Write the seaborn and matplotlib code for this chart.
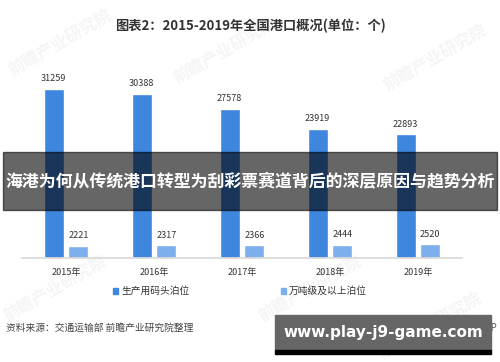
import pandas as pd
import matplotlib.pyplot as plt
import seaborn as sns
from matplotlib.patches import Rectangle

years = ['2015年', '2016年', '2017年', '2018年', '2019年']
berths_all = [31259, 30388, 27578, 23919, 22893]
berths_10k = [2221, 2317, 2366, 2444, 2520]
series_names = ['生产用码头泊位', '万吨级及以上泊位']

sns.set_theme(style='white')
plt.rcParams['font.family'] = ['Noto Sans CJK SC', 'DejaVu Sans']

df = pd.DataFrame({
    'year': years * 2,
    'value': berths_all + berths_10k,
    'series': [series_names[0]] * len(years) + [series_names[1]] * len(years),
})

fig = plt.figure(figsize=(5, 3.62), dpi=100)

# faint watermarks, drawn behind everything
for wx, wy in [(0.12, 0.88), (0.45, 0.86), (0.62, 0.2), (0.87, 0.84), (0.11, 0.2), (0.86, 0.1)]:
    fig.text(wx, wy, '前瞻产业研究院', rotation=30, ha='center', va='center',
             fontsize=12, fontweight='bold', color='#f5f5f5', zorder=-1)

ax = fig.add_axes([22 / 500, 1 - 258 / 362, 440 / 500, 198 / 362])
ax.patch.set_alpha(0)

palette = {series_names[0]: '#3f86df', series_names[1]: '#7cafec'}
sns.barplot(data=df, x='year', y='value', hue='series', palette=palette,
            width=0.56, gap=0.2, saturation=1, ax=ax, legend=False)

for c in ax.containers:
    ax.bar_label(c, fontsize=6.5, padding=4, color='#333333')

ax.set_xlim(-0.5, 4.5)
ax.set_ylim(0, 36600)
ax.set_xlabel('')
ax.set_ylabel('')
ax.set_yticks([])
for s in ['top', 'left', 'right']:
    ax.spines[s].set_visible(False)
ax.spines['bottom'].set_color('#d9d9d9')
ax.tick_params(axis='x', labelsize=6.5, colors='#333333', pad=7, length=0)

# title
fig.text(0.5, 1 - 26 / 362, '图表2：2015-2019年全国港口概况(单位：个)', ha='center', va='center',
         fontsize=9.5, fontweight='bold', color='#333333')

# legend
fig.patches.append(Rectangle((113 / 500, 1 - 294 / 362), 5 / 500, 6 / 362,
                             transform=fig.transFigure, color=palette[series_names[0]]))
fig.text(121 / 500, 1 - 291 / 362, series_names[0], ha='left', va='center', fontsize=7, color='#333333')
fig.patches.append(Rectangle((281 / 500, 1 - 294 / 362), 5 / 500, 6 / 362,
                             transform=fig.transFigure, color=palette[series_names[1]]))
fig.text(289 / 500, 1 - 291 / 362, series_names[1], ha='left', va='center', fontsize=7, color='#333333')

# source
fig.text(6 / 500, 1 - 328 / 362, '资料来源：交通运输部 前瞻产业研究院整理', ha='left', va='center',
         fontsize=7, color='#444444')
fig.text(497 / 500, 1 - 328 / 362, '@前瞻经济学人APP', ha='right', va='center',
         fontsize=7, color='#555555')

# overlay banner
fig.patches.append(Rectangle((3 / 500, 1 - 210 / 362), 494 / 500, 58 / 362,
                             transform=fig.transFigure, color='black', alpha=0.6, zorder=5))
fig.text(0.5, 1 - 182 / 362, '海港为何从传统港口转型为刮彩票赛道背后的深层原因与趋势分析',
         ha='center', va='center', fontsize=12.2, fontweight='bold', color='white', zorder=6)

# bottom box
fig.patches.append(Rectangle((275 / 500, 1 - 350 / 362), 216 / 500, 35 / 362,
                             transform=fig.transFigure, color='#666666', zorder=5))
fig.patches.append(Rectangle((275 / 500, 1 - 354 / 362), 216 / 500, 4 / 362,
                             transform=fig.transFigure, color='black', zorder=5))
fig.text(383 / 500, 1 - 332 / 362, 'www.play-j9-game.com', ha='center', va='center',
         fontsize=11, fontweight='bold', color='white', family=['DejaVu Sans'], zorder=6)

fig.savefig('out.png', dpi=100)
